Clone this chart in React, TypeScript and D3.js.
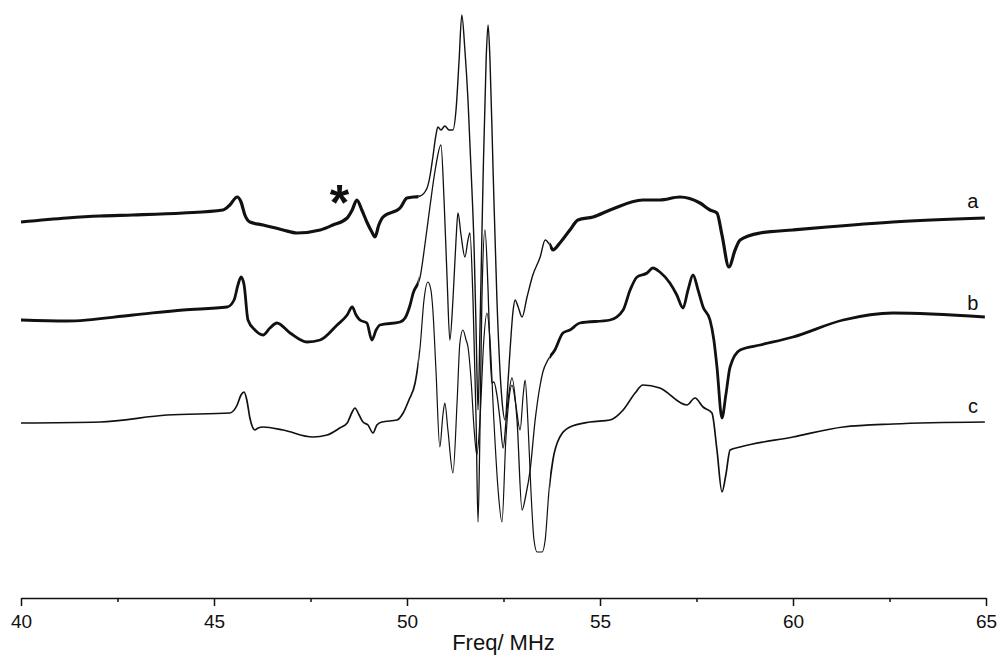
import React, { useRef, useEffect } from 'react';
import * as d3 from 'd3';

// ENDOR spectra, frequency (MHz) vs signal (a.u., stacked with offsets as drawn)
const traceA: [number, number][] = [
  [40.0, 376], [41.19, 380], [42.05, 382], [42.9, 383], [44.2, 385], [45.23, 388], [45.41, 393],
  [45.6, 401], [45.7, 396], [45.8, 383], [45.93, 376], [46.27, 373], [46.79, 368], [47.15, 365],
  [47.75, 368], [48.08, 373], [48.45, 380], [48.58, 388], [48.7, 398], [48.83, 388], [48.96, 376],
  [49.09, 366], [49.17, 361], [49.27, 373], [49.38, 381], [49.82, 390], [50.0, 400], [50.34, 402],
  [50.52, 410], [50.6, 423], [50.67, 441], [50.75, 463], [50.8, 471], [50.88, 468], [50.98, 472],
  [51.09, 468], [51.19, 468], [51.27, 488], [51.35, 538], [51.42, 583], [51.5, 548], [51.58, 498],
  [51.66, 428], [51.74, 348], [51.79, 268], [51.84, 188], [51.89, 268], [51.97, 418], [52.05, 538],
  [52.1, 573], [52.15, 538], [52.23, 428], [52.33, 298], [52.46, 198], [52.54, 178], [52.62, 218],
  [52.67, 248], [52.75, 288], [52.8, 298], [52.88, 291], [52.98, 281], [53.11, 301], [53.26, 323],
  [53.45, 341], [53.58, 358], [53.7, 353], [53.78, 348], [53.96, 355], [54.22, 368], [54.43, 378],
  [54.82, 381], [55.26, 388], [56.11, 398], [56.55, 398], [57.07, 401], [57.59, 395], [57.85, 388],
  [58.03, 385], [58.16, 363], [58.34, 331], [58.5, 348], [58.63, 358], [59.15, 365], [60.0, 368],
  [60.88, 371], [62.59, 376], [64.97, 380],
];

const traceB: [number, number][] = [
  [40.0, 278], [41.19, 277], [42.9, 283], [44.2, 288], [45.34, 291], [45.52, 298], [45.62, 313],
  [45.7, 321], [45.78, 313], [45.88, 278], [46.06, 268], [46.27, 263], [46.45, 270], [46.63, 275],
  [46.97, 265], [47.41, 256], [47.75, 258], [48.19, 273], [48.45, 283], [48.58, 291], [48.68, 283],
  [48.78, 278], [48.96, 275], [49.09, 258], [49.2, 268], [49.3, 273], [49.82, 276], [49.95, 280],
  [50.08, 293], [50.16, 305], [50.34, 321], [50.47, 355], [50.6, 393], [50.73, 428], [50.88, 453],
  [50.96, 398], [51.04, 318], [51.11, 258], [51.19, 298], [51.27, 358], [51.32, 385], [51.4, 363],
  [51.5, 341], [51.58, 358], [51.63, 365], [51.71, 298], [51.79, 178], [51.84, 76], [51.89, 168],
  [51.94, 298], [52.02, 368], [52.1, 308], [52.15, 248], [52.2, 215], [52.25, 216], [52.33, 203],
  [52.41, 178], [52.49, 150], [52.59, 188], [52.72, 220], [52.85, 178], [52.98, 88], [53.08, 103],
  [53.19, 128], [53.32, 178], [53.45, 213], [53.52, 226], [53.65, 238], [53.83, 248], [54.04, 265],
  [54.22, 268], [54.48, 275], [55.26, 278], [55.6, 288], [55.78, 308], [55.96, 321], [56.22, 325],
  [56.37, 330], [56.55, 326], [56.81, 315], [56.99, 303], [57.15, 290], [57.28, 308], [57.41, 323],
  [57.54, 308], [57.67, 291], [57.85, 278], [57.95, 258], [58.03, 231], [58.16, 180], [58.26, 203],
  [58.37, 231], [58.63, 248], [59.15, 253], [60.0, 261], [61.3, 278], [62.59, 285], [64.97, 281],
];

const traceC: [number, number][] = [
  [40.0, 175], [42.05, 176], [43.78, 183], [45.41, 185], [45.6, 193], [45.7, 203], [45.78, 206],
  [45.85, 198], [45.93, 180], [46.06, 168], [46.14, 170], [46.27, 171], [46.79, 168], [47.56, 161],
  [47.93, 163], [48.26, 170], [48.45, 175], [48.58, 186], [48.65, 190], [48.76, 183], [48.86, 176],
  [48.99, 173], [49.12, 165], [49.22, 173], [49.35, 176], [49.74, 178], [49.9, 185], [50.05, 198],
  [50.21, 215], [50.34, 251], [50.44, 298], [50.54, 316], [50.62, 308], [50.67, 288], [50.75, 228],
  [50.85, 151], [50.93, 183], [50.98, 195], [51.06, 168], [51.19, 125], [51.3, 198], [51.37, 255],
  [51.45, 268], [51.53, 258], [51.58, 251], [51.66, 218], [51.74, 168], [51.81, 143], [51.89, 178],
  [51.99, 258], [52.07, 285], [52.15, 258], [52.25, 178], [52.36, 108], [52.46, 76], [52.56, 158],
  [52.64, 198], [52.72, 213], [52.82, 193], [52.93, 168], [53.01, 203], [53.06, 218], [53.13, 178],
  [53.21, 108], [53.29, 58], [53.37, 46], [53.5, 46], [53.58, 58], [53.68, 108], [53.78, 138],
  [53.96, 161], [54.22, 171], [54.74, 176], [55.26, 178], [55.6, 188], [55.91, 205], [56.11, 213],
  [56.55, 210], [57.25, 193], [57.46, 200], [57.67, 191], [57.9, 185], [58.03, 148], [58.16, 106],
  [58.26, 123], [58.37, 148], [58.63, 151], [60.0, 161], [61.3, 171], [62.59, 174], [64.97, 176],
];

// noisy traces look heavier away from the strong central lines
const traces = [
  { label: 'a', data: traceA, outer: 3.2, inner: 1.4, labelAt: [64.66, 390] },
  { label: 'b', data: traceB, outer: 2.8, inner: 1.3, labelAt: [64.66, 288] },
  { label: 'c', data: traceC, outer: 1.7, inner: 1.2, labelAt: [64.66, 185] },
];

const centerBand: [number, number] = [50.3, 53.7];
const majorTicks = [40, 45, 50, 55, 60, 65];
const minorTicks = [42.5, 47.5, 52.5, 57.5, 62.5];
const markerAt: [number, number] = [48.25, 378]; // the "*" above trace a

const font = '"Liberation Sans", Arial, sans-serif';

const Spectrum = () => {
  const svgRef = useRef<SVGSVGElement>(null);
  const width = 997;
  const height = 657;

  useEffect(() => {
    const svg = d3.select(svgRef.current);
    svg.selectAll('*').remove();

    const x = d3.scaleLinear().domain([40, 65]).range([21, 986]);
    const y = d3.scaleLinear().domain([0, 598]).range([598, 0]);

    const path = d3.line<[number, number]>()
      .x(d => x(d[0]))
      .y(d => y(d[1]))
      .curve(d3.curveMonotoneX);

    // clip regions: inside / outside the central band
    const defs = svg.append('defs');
    const inner = defs.append('clipPath').attr('id', 'clip-inner');
    inner.append('rect')
      .attr('x', x(centerBand[0])).attr('y', 0)
      .attr('width', x(centerBand[1]) - x(centerBand[0])).attr('height', height);
    const outer = defs.append('clipPath').attr('id', 'clip-outer');
    outer.append('rect').attr('x', 0).attr('y', 0).attr('width', x(centerBand[0])).attr('height', height);
    outer.append('rect').attr('x', x(centerBand[1])).attr('y', 0)
      .attr('width', width - x(centerBand[1])).attr('height', height);

    traces.forEach(t => {
      svg.append('path')
        .attr('d', path(t.data))
        .attr('clip-path', 'url(#clip-outer)')
        .attr('fill', 'none')
        .attr('stroke', '#111')
        .attr('stroke-width', t.outer)
        .attr('stroke-linejoin', 'round');
      svg.append('path')
        .attr('d', path(t.data))
        .attr('clip-path', 'url(#clip-inner)')
        .attr('fill', 'none')
        .attr('stroke', '#111')
        .attr('stroke-width', t.inner)
        .attr('stroke-linejoin', 'round');

      svg.append('text')
        .attr('x', x(t.labelAt[0]))
        .attr('y', y(t.labelAt[1]))
        .attr('text-anchor', 'middle')
        .style('font-family', font)
        .style('font-size', '20px')
        .attr('fill', '#111')
        .text(t.label);
    });

    // asterisk marking an extra line in trace a
    svg.append('text')
      .attr('x', x(markerAt[0]))
      .attr('y', y(markerAt[1]))
      .attr('text-anchor', 'middle')
      .style('font-family', font)
      .style('font-size', '50px')
      .style('font-weight', 'bold')
      .attr('fill', '#111')
      .text('*');

    // bottom axis: major + minor ticks
    const axisY = y(0);
    const major = svg.append('g')
      .attr('transform', `translate(0, ${axisY})`)
      .call(d3.axisBottom(x).tickValues(majorTicks).tickSize(8).tickSizeOuter(0).tickPadding(9).tickFormat(d3.format('d')));
    major.select('.domain').attr('stroke', '#111').attr('stroke-width', 1.5);
    major.selectAll('.tick line').attr('stroke', '#111').attr('stroke-width', 1.5);
    major.selectAll('.tick text')
      .style('font-family', font)
      .style('font-size', '19px')
      .attr('fill', '#111');

    const minor = svg.append('g')
      .attr('transform', `translate(0, ${axisY})`)
      .call(d3.axisBottom(x).tickValues(minorTicks).tickSize(4).tickSizeOuter(0).tickFormat(() => ''));
    minor.select('.domain').remove();
    minor.selectAll('.tick line').attr('stroke', '#111').attr('stroke-width', 1.5);

    svg.append('text')
      .attr('x', (x(40) + x(65)) / 2)
      .attr('y', 650)
      .attr('text-anchor', 'middle')
      .style('font-family', font)
      .style('font-size', '22px')
      .attr('fill', '#111')
      .text('Freq/ MHz');
  }, []);

  return (
    <svg ref={svgRef} width={width} height={height}
      style={{ position: 'absolute', left: 0, top: 0, background: '#fff' }} />
  );
};

export default function App() {
  return <Spectrum />;
}
